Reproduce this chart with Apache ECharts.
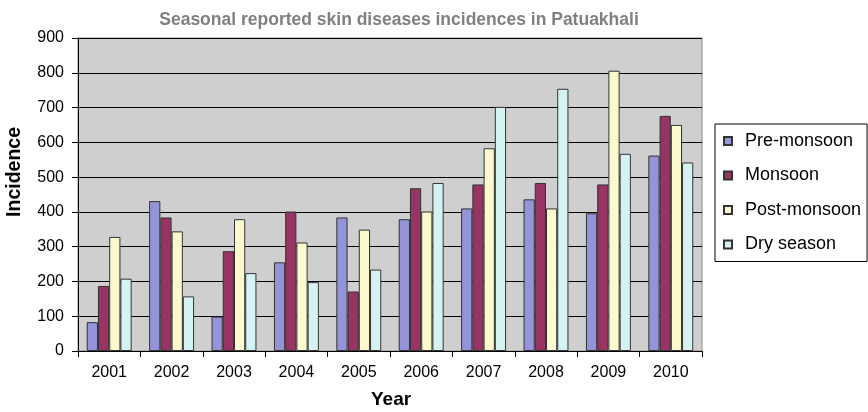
<!DOCTYPE html>
<html>
<head>
<meta charset="utf-8">
<script src="https://cdn.jsdelivr.net/npm/echarts@6/dist/echarts.min.js"></script>
<style>
  html, body { margin: 0; padding: 0; background: #fff; }
  #chart { width: 868px; height: 412px; }
</style>
</head>
<body>
<div id="chart"></div>
<script>
// Reported skin disease incidences by season, Patuakhali 2001–2010
const years = ['2001', '2002', '2003', '2004', '2005', '2006', '2007', '2008', '2009', '2010'];
const preMonsoon  = [83, 431, 99, 255, 384, 379, 410, 436, 396, 562];
const monsoon     = [187, 384, 287, 401, 171, 468, 479, 483, 479, 676];
const postMonsoon = [328, 344, 379, 312, 349, 401, 583, 410, 806, 650];
const drySeason   = [208, 157, 224, 198, 234, 483, 702, 754, 567, 542];
const yTicks = [0, 100, 200, 300, 400, 500, 600, 700, 800, 900];

const FONT = '"Liberation Sans", Arial, sans-serif';

function barSeries(name, data, color) {
  return {
    name: name,
    type: 'bar',
    data: data,
    barGap: '0%',
    barCategoryGap: '28%',
    itemStyle: { color: color, borderColor: '#333333', borderWidth: 1 },
    emphasis: { disabled: true }
  };
}

const chart = echarts.init(document.getElementById('chart'), null, { renderer: 'canvas' });
chart.setOption({
  animation: false,
  backgroundColor: '#ffffff',
  title: {
    text: 'Seasonal reported skin diseases incidences in Patuakhali',
    left: 394,
    textAlign: 'center',
    top: 6,
    textStyle: { fontFamily: FONT, fontSize: 17.5, fontWeight: 'bold', color: '#808080' }
  },
  grid: {
    left: 78, right: 166, top: 38, bottom: 61,
    show: true,
    backgroundColor: '#cfcfcf',
    borderColor: '#8a8a8a',
    borderWidth: 1
  },
  legend: {
    orient: 'vertical',
    left: 715,
    top: 124,
    width: 151,
    padding: [8, 6, 8, 8],
    itemGap: 16.5,
    itemWidth: 8,
    itemHeight: 8,
    borderColor: '#000000',
    borderWidth: 1,
    backgroundColor: '#ffffff',
    icon: 'rect',
    textStyle: { fontFamily: FONT, fontSize: 18, lineHeight: 18, color: '#000000', padding: [0, 0, 0, 8] },
    data: ['Pre-monsoon', 'Monsoon', 'Post-monsoon', 'Dry season']
  },
  xAxis: {
    type: 'category',
    data: years,
    boundaryGap: true,
    axisLine: { lineStyle: { color: '#000000', width: 1 } },
    axisTick: { show: true, alignWithLabel: false, length: 6, inside: false, lineStyle: { color: '#000000' } },
    axisLabel: { fontFamily: FONT, fontSize: 16, color: '#000000', margin: 14 },
    splitLine: { show: false }
  },
  yAxis: {
    type: 'value',
    min: yTicks[0],
    max: yTicks[yTicks.length - 1],
    interval: yTicks[1] - yTicks[0],
    axisLine: { show: true, lineStyle: { color: '#000000', width: 1 } },
    axisTick: { show: true, length: 6, lineStyle: { color: '#000000' } },
    axisLabel: { fontFamily: FONT, fontSize: 16, color: '#000000', margin: 14 },
    splitLine: { show: true, lineStyle: { color: '#000000', width: 1 } }
  },
  graphic: [
    {
      type: 'text',
      left: 5,
      top: 127,
      rotation: Math.PI / 2,
      style: { text: 'Incidence', fontFamily: FONT, fontSize: 19.5, fontWeight: 'bold', fill: '#000000' }
    },
    {
      type: 'text',
      left: 371,
      top: 390,
      style: { text: 'Year', fontFamily: FONT, fontSize: 19, fontWeight: 'bold', fill: '#000000' }
    }
  ],
  series: [
    barSeries('Pre-monsoon', preMonsoon, '#9494d8'),
    barSeries('Monsoon', monsoon, '#973463'),
    barSeries('Post-monsoon', postMonsoon, '#fbf9cd'),
    barSeries('Dry season', drySeason, '#d6f3f3')
  ]
});
</script>
</body>
</html>
